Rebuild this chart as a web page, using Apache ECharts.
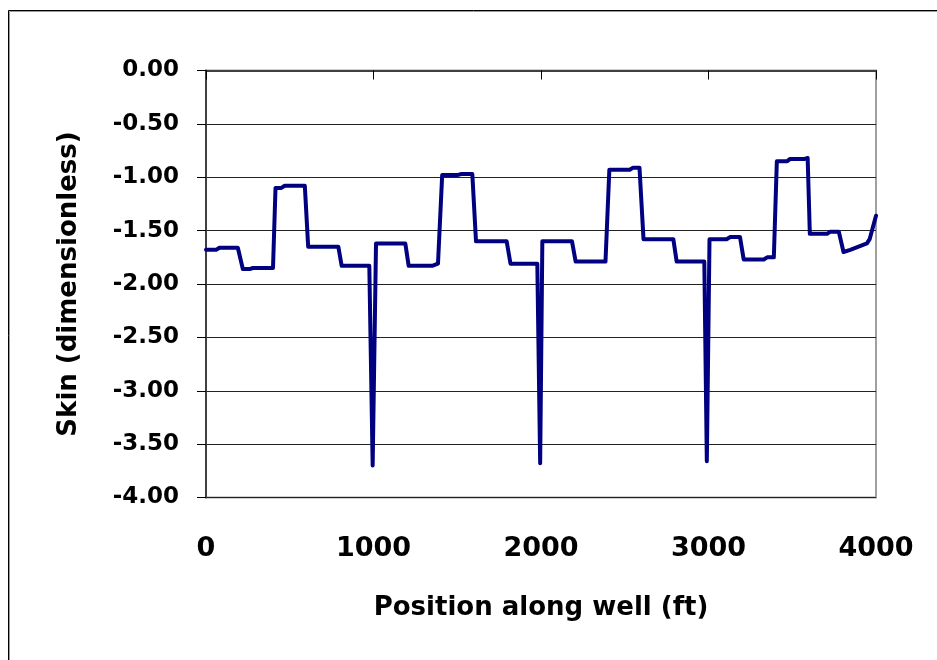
<!DOCTYPE html>
<html>
<head>
<meta charset="utf-8">
<script src="https://cdn.jsdelivr.net/npm/echarts@6/dist/echarts.min.js"></script>
<style>
  html, body { margin: 0; padding: 0; background: #fff; }
  #chart { width: 937px; height: 660px; }
</style>
</head>
<body>
<div id="chart"></div>
<script>
// Skin factor along the horizontal well, breakpoints of the profile
const positionFt = [
  0, 60, 80, 190, 220, 260, 280, 400, 415, 450, 470, 590, 610, 790, 810, 975,
  995, 1015, 1190, 1210, 1350, 1385, 1410, 1500, 1525, 1590, 1612, 1795, 1818, 1978,
  1995, 2008, 2185, 2207, 2385, 2408, 2530, 2550, 2588, 2612, 2790, 2810, 2975,
  2990, 3006, 3108, 3130, 3188, 3210, 3330, 3350, 3390, 3408, 3470, 3485, 3570,
  3592, 3605, 3708, 3727, 3778, 3806, 3846, 3896, 3946, 3962, 4000
];
const skin = [
  -1.68, -1.68, -1.66, -1.66, -1.86, -1.86, -1.85, -1.85, -1.10, -1.10, -1.08, -1.08, -1.65, -1.65, -1.83, -1.83,
  -3.70, -1.62, -1.62, -1.83, -1.83, -1.81, -0.98, -0.98, -0.97, -0.97, -1.60, -1.60, -1.81, -1.81,
  -3.68, -1.60, -1.60, -1.79, -1.79, -0.93, -0.93, -0.91, -0.91, -1.58, -1.58, -1.79, -1.79,
  -3.66, -1.58, -1.58, -1.56, -1.56, -1.77, -1.77, -1.75, -1.75, -0.85, -0.85, -0.83, -0.83,
  -0.82, -1.53, -1.53, -1.51, -1.51, -1.70, -1.68, -1.65, -1.62, -1.58, -1.36
];

const xTicks = { min: 0, max: 4000, interval: 1000 };
const yTicks = { min: -4, max: 0, interval: 0.5 };

const FONT = 'DejaVu Sans';
const chart = echarts.init(document.getElementById('chart'), null, { renderer: 'canvas' });

chart.setOption({
  animation: false,
  backgroundColor: '#ffffff',
  grid: {
    left: 206, right: 61, top: 70.5, bottom: 162.5,
    show: true, borderColor: '#a0a0a0', borderWidth: 2, backgroundColor: 'transparent'
  },
  graphic: [
    { type: 'rect', silent: true, shape: { x: 8.5, y: 10.5, width: 1000, height: 1000 },
      style: { fill: 'none', stroke: '#000', lineWidth: 1 } },
    { type: 'rect', silent: true, shape: { x: 9.5, y: 11.5, width: 1000, height: 1000 },
      style: { fill: 'none', stroke: '#9a9a9a', lineWidth: 1 } }
  ],
  xAxis: {
    type: 'value',
    min: xTicks.min, max: xTicks.max, interval: xTicks.interval,
    name: 'Position along well (ft)',
    nameLocation: 'middle', nameGap: 98,
    nameTextStyle: { fontFamily: FONT, fontWeight: 'bold', fontSize: 26, color: '#000' },
    axisLine: { show: true, lineStyle: { color: '#404040', width: 2 } },
    axisTick: { show: true, inside: false, length: 9, lineStyle: { color: '#000', width: 1 } },
    axisLabel: {
      margin: 38, fontFamily: FONT, fontWeight: 'bold', fontSize: 27, color: '#000',
      formatter: v => String(v)
    },
    splitLine: { show: false }
  },
  yAxis: {
    type: 'value',
    min: yTicks.min, max: yTicks.max, interval: yTicks.interval,
    name: 'Skin (dimensionless)',
    nameLocation: 'middle', nameGap: 124, nameRotate: 90,
    nameTextStyle: { fontFamily: FONT, fontWeight: 'bold', fontSize: 26, color: '#000' },
    axisLine: { show: true, onZero: false, lineStyle: { color: '#404040', width: 2 } },
    axisTick: { show: true, inside: false, length: 9, lineStyle: { color: '#000', width: 1 } },
    axisLabel: {
      margin: 27, fontFamily: FONT, fontWeight: 'bold', fontSize: 23, color: '#000',
      formatter: v => v.toFixed(2)
    },
    splitLine: { show: true, lineStyle: { color: '#222', width: 1 } }
  },
  series: [{
    type: 'line',
    data: positionFt.map((x, i) => [x, skin[i]]),
    showSymbol: false,
    symbol: 'none',
    lineStyle: { color: '#000080', width: 4, join: 'round', cap: 'round' },
    z: 5
  }]
});
</script>
</body>
</html>
